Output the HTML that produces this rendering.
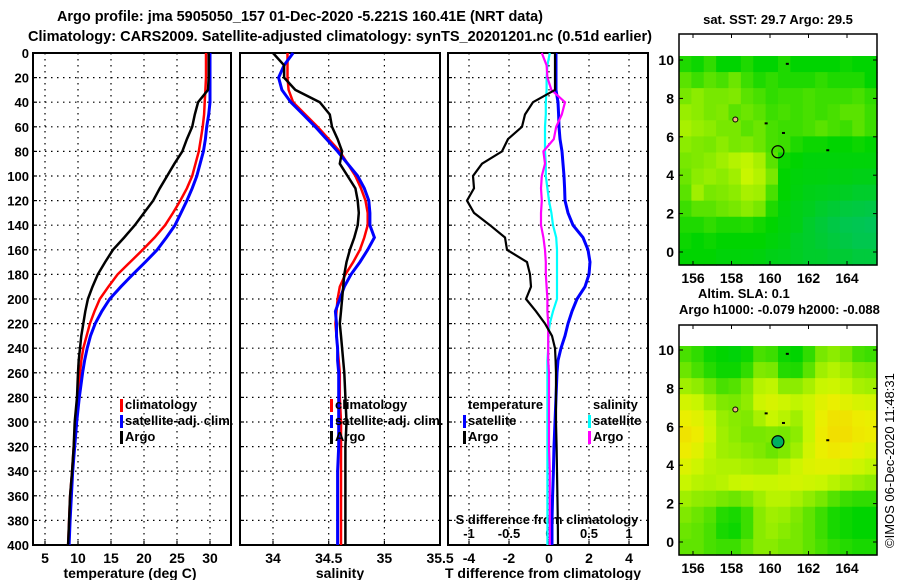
<!DOCTYPE html>
<html><head><meta charset="utf-8"><style>
html,body{margin:0;padding:0;background:#fff;}
svg{display:block;font-family:"Liberation Sans",sans-serif;font-weight:bold;}
</style></head><body>
<svg id="fig" width="900" height="580" viewBox="0 0 900 580">
<text x="57" y="21" font-size="15" textLength="486" lengthAdjust="spacingAndGlyphs">Argo profile: jma 5905050_157 01-Dec-2020 -5.221S 160.41E (NRT data)</text>
<text x="28" y="41" font-size="15" textLength="624" lengthAdjust="spacingAndGlyphs">Climatology: CARS2009. Satellite-adjusted climatology: synTS_20201201.nc (0.51d earlier)</text>
<g id="g"></g>
</svg>
<script>
// ---------- data ----------
const depths    = [0,10,20,30,40,50,60,70,80,90,100,110,120,130,140,150,160,170,180,190,200,210,220,230,240,250,260,280,300,320,340,360,380,400];
const tempArgo  = [29.8,29.8,29.8,29.7,28.2,27.7,27.3,26.5,25.8,24.6,23.5,22.4,21.4,20.0,18.6,17.0,15.3,14.1,13.0,12.2,11.5,11.1,10.8,10.5,10.3,10.1,10.0,9.85,9.5,9.35,9.1,8.8,8.65,8.5];
const tempClim  = [29.4,29.4,29.4,29.3,29.2,29.1,28.9,28.6,28.3,27.8,27.3,26.5,25.5,24.4,23.2,21.6,19.8,17.9,16.0,14.6,13.3,12.5,11.8,11.3,10.8,10.5,10.3,10.0,9.6,9.35,9.1,8.8,8.65,8.5];
const tempSat   = [30.0,30.0,30.0,30.0,30.0,29.8,29.5,29.3,29.0,28.5,28.0,27.3,26.5,25.6,24.7,23.4,22.0,20.2,18.3,16.5,14.8,13.6,12.6,11.9,11.4,11.0,10.7,10.2,9.8,9.5,9.2,9.0,8.8,8.65];
const salArgo   = [34.0,34.1,34.1,34.2,34.42,34.51,34.53,34.58,34.62,34.6,34.67,34.74,34.76,34.77,34.76,34.73,34.69,34.66,34.64,34.63,34.62,34.61,34.6,34.61,34.62,34.63,34.64,34.65,34.66,34.65,34.65,34.65,34.65,34.65];
const salClim   = [34.13,34.13,34.13,34.14,34.18,34.29,34.4,34.5,34.6,34.67,34.74,34.79,34.83,34.85,34.85,34.82,34.78,34.72,34.65,34.6,34.58,34.57,34.56,34.57,34.58,34.59,34.6,34.6,34.61,34.61,34.61,34.61,34.61,34.61];
const salSat    = [34.18,34.1,34.05,34.08,34.16,34.27,34.38,34.48,34.58,34.67,34.76,34.82,34.86,34.87,34.87,34.91,34.85,34.78,34.7,34.64,34.6,34.56,34.57,34.57,34.58,34.58,34.59,34.59,34.59,34.59,34.58,34.58,34.58,34.58];
const dTArgo    = [0.3,0.3,0.3,0.3,-0.8,-1.2,-1.35,-2.05,-2.35,-3.35,-3.8,-3.75,-4.1,-3.75,-2.95,-2.2,-2.1,-1.1,-0.95,-0.9,-1.15,-0.65,-0.2,0.15,0.3,0.33,0.35,0.35,0.35,0.38,0.4,0.42,0.44,0.45];
const dTSat     = [0.35,0.35,0.35,0.35,0.45,0.48,0.5,0.55,0.65,0.7,0.75,0.78,0.8,0.95,1.2,1.7,1.95,2.05,2.0,1.8,1.4,1.15,0.95,0.8,0.6,0.45,0.4,0.35,0.3,0.25,0.22,0.18,0.15,0.15];
const dSSat     = [0.01,-0.02,-0.03,-0.03,-0.04,-0.04,-0.05,-0.05,-0.05,-0.04,-0.04,-0.02,0.0,0.03,0.05,0.09,0.1,0.1,0.1,0.1,0.1,0.05,0.01,-0.01,-0.01,-0.02,-0.02,-0.02,-0.02,-0.02,-0.02,-0.02,-0.02,-0.02];
const dSArgo    = [-0.09,-0.03,-0.02,0.03,0.2,0.16,0.09,0.06,-0.07,-0.05,-0.09,-0.1,-0.09,-0.1,-0.1,-0.07,-0.05,-0.04,-0.04,-0.03,-0.02,-0.02,-0.01,-0.01,-0.01,-0.01,0.0,0.0,0.0,0.0,0.01,0.01,0.01,0.01];
const depthTicks = [0,20,40,60,80,100,120,140,160,180,200,220,240,260,280,300,320,340,360,380,400];
const tempTicks = [5,10,15,20,25,30];
const salTicks  = [34,34.5,35,35.5];
const salTickLabels = ["34","34.5","35","35.5"];
const dTTicks = [-4,-2,0,2,4];
const dSTicks = [-1,-0.5,0,0.5,1];
const dSTickLabels = ["-1","-0.5","0","0.5","1"];
const lonTicks = [156,158,160,162,164];
const latTicks = [0,2,4,6,8,10];
const sstField = [
[0.35,0.32,0.38,0.3,0.3,0.35,0.3,0.3,0.35,0.3,0.3,0.3,0.3,0.32,0.3,0.3],
[0.45,0.4,0.45,0.42,0.48,0.4,0.35,0.38,0.35,0.35,0.35,0.38,0.35,0.35,0.35,0.3],
[0.5,0.55,0.5,0.5,0.52,0.45,0.42,0.38,0.4,0.4,0.42,0.4,0.4,0.4,0.42,0.38],
[0.58,0.55,0.5,0.52,0.45,0.48,0.45,0.4,0.42,0.4,0.42,0.4,0.42,0.45,0.45,0.4],
[0.62,0.58,0.55,0.5,0.5,0.45,0.48,0.42,0.4,0.4,0.42,0.45,0.42,0.4,0.45,0.4],
[0.55,0.52,0.5,0.55,0.5,0.52,0.48,0.42,0.4,0.35,0.32,0.32,0.3,0.3,0.32,0.3],
[0.5,0.52,0.55,0.6,0.65,0.68,0.62,0.45,0.32,0.3,0.28,0.28,0.28,0.28,0.28,0.28],
[0.48,0.55,0.58,0.55,0.6,0.7,0.65,0.5,0.3,0.28,0.27,0.27,0.26,0.26,0.25,0.25],
[0.45,0.6,0.5,0.52,0.55,0.62,0.6,0.42,0.3,0.27,0.25,0.24,0.23,0.22,0.2,0.2],
[0.4,0.45,0.45,0.48,0.5,0.55,0.5,0.35,0.28,0.25,0.23,0.2,0.18,0.16,0.15,0.14],
[0.35,0.35,0.38,0.35,0.35,0.36,0.33,0.3,0.27,0.25,0.2,0.17,0.14,0.12,0.11,0.1],
[0.32,0.3,0.32,0.3,0.3,0.3,0.3,0.28,0.26,0.22,0.2,0.18,0.16,0.14,0.12,0.12],
[0.3,0.3,0.3,0.28,0.28,0.28,0.27,0.25,0.24,0.22,0.2,0.2,0.18,0.18,0.16,0.16]];
const slaField = [
[0.42,0.38,0.32,0.3,0.28,0.32,0.42,0.4,0.32,0.3,0.38,0.5,0.55,0.5,0.42,0.4],
[0.48,0.42,0.36,0.32,0.32,0.38,0.52,0.5,0.36,0.35,0.45,0.6,0.65,0.6,0.52,0.5],
[0.6,0.56,0.48,0.42,0.44,0.52,0.66,0.68,0.55,0.55,0.62,0.7,0.72,0.68,0.62,0.6],
[0.74,0.7,0.6,0.52,0.5,0.56,0.72,0.76,0.72,0.68,0.72,0.8,0.84,0.8,0.76,0.74],
[0.84,0.8,0.7,0.58,0.54,0.52,0.62,0.7,0.66,0.6,0.7,0.84,0.9,0.9,0.86,0.84],
[0.9,0.86,0.72,0.6,0.55,0.5,0.5,0.52,0.5,0.55,0.7,0.86,0.92,0.92,0.88,0.86],
[0.86,0.8,0.68,0.6,0.58,0.55,0.52,0.48,0.52,0.6,0.74,0.84,0.88,0.86,0.82,0.78],
[0.78,0.72,0.66,0.64,0.64,0.62,0.6,0.6,0.66,0.72,0.78,0.8,0.8,0.76,0.72,0.68],
[0.7,0.66,0.64,0.66,0.7,0.72,0.7,0.7,0.72,0.74,0.72,0.7,0.66,0.62,0.58,0.55],
[0.6,0.56,0.54,0.5,0.48,0.52,0.6,0.66,0.66,0.62,0.56,0.5,0.44,0.4,0.38,0.38],
[0.52,0.48,0.44,0.36,0.34,0.4,0.54,0.6,0.58,0.52,0.46,0.4,0.34,0.32,0.3,0.3],
[0.48,0.46,0.42,0.34,0.32,0.4,0.54,0.58,0.54,0.5,0.46,0.4,0.34,0.32,0.3,0.3],
[0.46,0.46,0.42,0.4,0.4,0.46,0.54,0.54,0.5,0.5,0.46,0.42,0.38,0.36,0.34,0.34]];
const argoLon = 160.41, argoLat = 5.22;

// ---------- helpers ----------
const NS="http://www.w3.org/2000/svg";
const G=document.getElementById('g');
function mk(tag,attrs,parent){const e=document.createElementNS(NS,tag);for(const k in attrs)e.setAttribute(k,attrs[k]);(parent||G).appendChild(e);return e;}
function txt(x,y,s,size,anchor,parent){const t=mk('text',{x:x,y:y,'font-size':size,'text-anchor':anchor||'middle'},parent);t.textContent=s;return t;}
const y0=53,y1=545;
const yD=d=>y0+(d/400)*(y1-y0);
const xT=v=>45+(v-5)*6.6;
const xS=v=>273+(v-34)*111.4;
const xDT=v=>549+v*20;
const xDS=v=>549+v*80;

function panel(name,x0,x1,xs,ticks,labels,xlabel,lx){
  const g=mk('g',{});
  
  
  depthTicks.forEach(d=>{if(d>0&&d<400){const l=mk('line',{x1:x0,x2:x1,y1:yD(d),y2:yD(d),stroke:'#000','stroke-width':1.2,'stroke-dasharray':'1.5,4.5'},g);}});
  ticks.forEach((t,i)=>{const x=xs(t);if(x>x0+1&&x<x1-1){const l=mk('line',{x1:x,x2:x,y1:y0,y2:y1,stroke:'#000','stroke-width':1.2,'stroke-dasharray':'1.5,4.5'},g);
      const tk=mk('line',{x1:x,x2:x,y1:y1,y2:y1-4,stroke:'#000','stroke-width':1.2},g);}
    if(labels){const tl=txt(x,563,labels[i],14,'middle',g);}});
  const r=mk('rect',{x:x0,y:y0,width:x1-x0,height:y1-y0,fill:'none',stroke:'#000','stroke-width':2},g);
  
  const xl=txt(lx,578,xlabel,14,'middle',g);
  
  return g;
}
function series(g,vals,xs,color,w,name){
  const pts=vals.map((v,i)=>xs(v).toFixed(1)+','+yD(depths[i]).toFixed(1)).join(' ');
  const p=mk('polyline',{points:pts,fill:'none',stroke:color,'stroke-width':w,'stroke-linejoin':'miter'},g);
  
}
function legend(g,x,y,color,label,name){
  const m=mk('rect',{x:x-5,y:y-10,width:3,height:13,fill:color},g);
  
  const t=txt(x,y,label,13,'start',g);
  
}

depthTicks.forEach(d=>{const t=txt(29,yD(d)+5,String(d),13,'end');
  [33,240,448].forEach(x=>{const l=mk('line',{x1:x,x2:x+4,y1:yD(d),y2:yD(d),stroke:'#000','stroke-width':1.2});});});

const p1=panel('temperature-panel',33,231,xT,tempTicks,tempTicks.map(String),'temperature (deg C)',130);
series(p1,tempClim,xT,'#f00',2.5,'temp-climatology-line');
series(p1,tempSat,xT,'#00f',3,'temp-satellite-line');
series(p1,tempArgo,xT,'#000',2.5,'temp-argo-line');
legend(p1,125,409,'#f00','climatology','legend-climatology');
legend(p1,125,425,'#00f','satellite-adj. clim.','legend-satellite-adj');
legend(p1,125,441,'#000','Argo','legend-argo');

const p2=panel('salinity-panel',240,440,xS,salTicks,salTickLabels,'salinity',340);
series(p2,salClim,xS,'#f00',2.5,'sal-climatology-line');
series(p2,salSat,xS,'#00f',3,'sal-satellite-line');
series(p2,salArgo,xS,'#000',2.5,'sal-argo-line');
legend(p2,335,409,'#f00','climatology','legend-climatology');
legend(p2,335,425,'#00f','satellite-adj. clim.','legend-satellite-adj');
legend(p2,335,441,'#000','Argo','legend-argo');

const p3=panel('difference-panel',448,648,xDT,dTTicks,dTTicks.map(String),'T difference from climatology',543);
dSTicks.forEach((t,i)=>{const l=txt(xDS(t),538,dSTickLabels[i],13,'middle',p3);});
const st=txt(547,524,'S difference from climatology',13,'middle',p3);

series(p3,dTSat,xDT,'#00f',3,'dt-satellite-line');
series(p3,dSSat,xDS,'#0ff',2.2,'ds-satellite-line');
series(p3,dSArgo,xDS,'#f0f',2.2,'ds-argo-line');
series(p3,dTArgo,xDT,'#000',2.2,'dt-argo-line');
const lt=txt(468,409,'temperature',13,'start',p3);
legend(p3,468,425,'#00f','satellite','legend-t-satellite');
legend(p3,468,441,'#000','Argo','legend-t-argo');
const ls=txt(593,409,'salinity',13,'start',p3);
legend(p3,593,425,'#0ff','satellite','legend-s-satellite');
legend(p3,593,441,'#f0f','Argo','legend-s-argo');

const stops=[[0,[0,190,130]],[0.3,[0,212,0]],[0.5,[120,232,0]],[0.7,[200,246,0]],[0.85,[236,238,0]],[1,[246,206,0]]];
function cmap(v){for(let i=1;i<stops.length;i++){if(v<=stops[i][0]){const a=stops[i-1],b=stops[i],f=(v-a[0])/(b[0]-a[0]);return 'rgb('+a[1].map((c,k)=>Math.round(c+(b[1][k]-c)*f)).join(',')+')';}}return 'rgb(246,206,0)';}
function map(name,top,field,lat0y,colorTop,titleLines,circleFill){
  const g=mk('g',{});
  
  const bx0=679,bx1=877,by1=lat0y+13;
  const xL=lon=>693+(lon-156)*19.25;
  const yL=lat=>lat0y-lat*19.2;
  const rows=field.length,cols=field[0].length;
  const cw=(bx1-bx0)/cols,ch=(by1-colorTop)/rows;
  field.forEach((row,r)=>row.forEach((v,c)=>{const cell=mk('rect',{x:(bx0+c*cw).toFixed(2),y:(colorTop+r*ch).toFixed(2),width:(cw+0.6).toFixed(2),height:(ch+0.6).toFixed(2),fill:cmap(v)},g);
    }));
  const fr=mk('rect',{x:bx0,y:top,width:bx1-bx0,height:by1-top,fill:'none',stroke:'#000','stroke-width':1.5},g);
  
  lonTicks.forEach(l=>{const x=xL(l);mk('line',{x1:x,x2:x,y1:by1,y2:by1-4,stroke:'#000'},g);mk('line',{x1:x,x2:x,y1:top,y2:top+4,stroke:'#000'},g);
    const t=txt(x,by1+18,String(l),14,'middle',g);});
  latTicks.forEach(l=>{const y=yL(l);mk('line',{x1:bx0,x2:bx0+4,y1:y,y2:y,stroke:'#000'},g);mk('line',{x1:bx1,x2:bx1-4,y1:y,y2:y,stroke:'#000'},g);
    const t=txt(674,y+5,String(l),14,'end',g);});
  const c=mk('circle',{cx:xL(argoLon),cy:yL(argoLat),r:6,fill:circleFill,stroke:'#000','stroke-width':1.2},g);
  
  const isl=mk('circle',{cx:xL(158.2),cy:yL(6.9),r:2.5,fill:'#f0b080',stroke:'#000'},g);
  
  [[163,5.3],[160.9,9.8],[159.8,6.7],[160.7,6.2]].forEach(p=>{const d=mk('rect',{x:xL(p[0])-1.5,y:yL(p[1])-1,width:3,height:2,fill:'#000'},g);});
  titleLines.forEach(tl=>{const t=txt(tl[0],tl[1],tl[2],13,tl[3],g);});
}
map('sst-map',34,sstField,252,56,[[778,24,'sat. SST: 29.7 Argo: 29.5','middle','sst-map-title']],'none');
map('sla-map',325,slaField,542,346,[[698,298,'Altim. SLA: 0.1','start','sla-map-title'],[679,314,'Argo h1000: -0.079 h2000: -0.088','start','steric-height-label']],'#00b060');
const cr=txt(0,0,'©IMOS 06-Dec-2020 11:48:31',13,'start');
cr.setAttribute('transform','translate(894,548) rotate(-90)');
cr.setAttribute('font-weight','normal');


</script>
</body></html>
